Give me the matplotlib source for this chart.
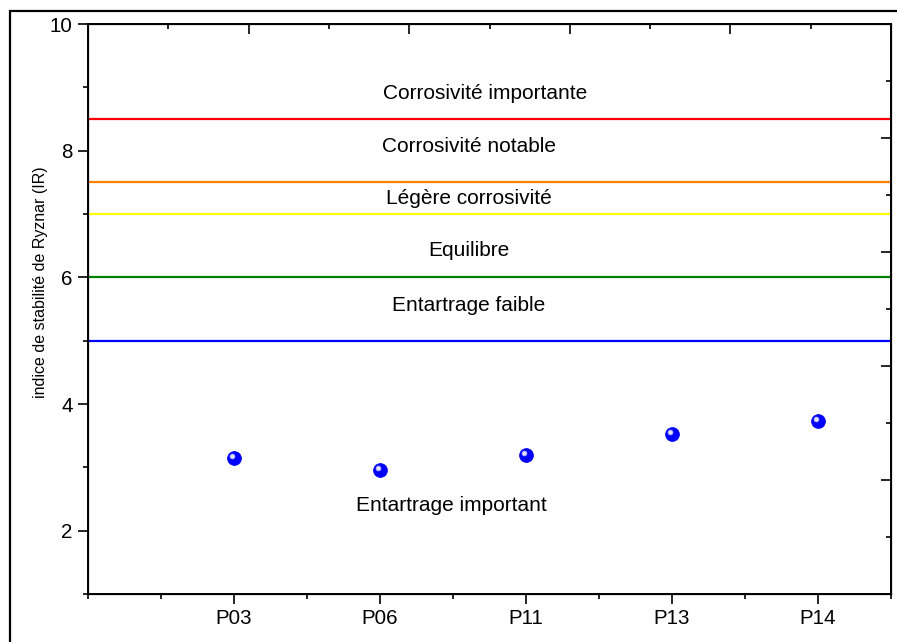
import matplotlib
matplotlib.use("Agg")
import matplotlib.pyplot as plt
import matplotlib.transforms as mtrans
from matplotlib.patches import Rectangle
from matplotlib.ticker import MultipleLocator

plt.rcParams['font.family'] = ['Liberation Sans', 'DejaVu Sans']

# points de prélèvement et indice de Ryznar
puits = ['P03', 'P06', 'P11', 'P13', 'P14']
ir = [3.15, 2.96, 3.19, 3.53, 3.73]

# limites des classes
seuils = [8.5, 7.5, 7.0, 6.0, 5.0]
couleurs = ['#ff0000', '#ff8000', '#ffff00', '#008000', '#0000ff']

zones = ['Corrosivité importante', 'Corrosivité notable', 'Légère corrosivité',
         'Equilibre', 'Entartrage faible', 'Entartrage important']
zones_y = [8.9, 8.06, 7.24, 6.43, 5.56, 2.4]
zones_x = [2.72, 2.61, 2.61, 2.61, 2.61, 2.49]

fig = plt.figure(figsize=(8.97, 6.42), dpi=100)
ax = fig.add_axes([88/897, 1-594/642, (891-88)/897, (594-24)/642])

xs = list(range(1, len(puits) + 1))

for s, c in zip(seuils, couleurs):
    ax.axhline(s, color=c, lw=1.6, zorder=1)

ax.plot(xs, ir, 'o', ms=10, color='#0000ff', mec='#0000ee', mew=0.5, zorder=3)
hl = ax.transData + mtrans.ScaledTranslation(-1.5/72, 1.5/72, fig.dpi_scale_trans)
ax.plot(xs, ir, 'o', ms=4, color='#b8b8ff', mec='none', transform=hl, zorder=4)
ax.plot(xs, ir, 'o', ms=2, color='#f0f0ff', mec='none', transform=hl, zorder=5)

for t, x, y in zip(zones, zones_x, zones_y):
    ax.text(x, y, t, ha='center', va='center', fontsize=15)

ax.set_xlim(0, 5.5)
ax.set_ylim(1, 10)
ax.set_xticks(xs)
ax.set_xticklabels(puits)
ax.xaxis.set_minor_locator(MultipleLocator(0.5))
ax.set_yticks([2, 4, 6, 8, 10])
ax.yaxis.set_minor_locator(MultipleLocator(1))
ax.tick_params(which='major', direction='out', length=7, width=1.2, labelsize=14.8)
ax.tick_params(which='minor', direction='out', length=3.5, width=1.2)
ax.tick_params(axis='x', which='major', pad=4)
ax.tick_params(axis='y', which='major', pad=4)

fig.text(40/897, 1-282/642, 'indice de stabilité de Ryznar (IR)', rotation=90,
         ha='center', va='center', fontsize=11.5)
for sp in ax.spines.values():
    sp.set_linewidth(1.4)

# axes secondaires (haut et droite) sans étiquettes
axt = ax.twiny()
axt.set_xlim(0, 5)
axt.set_xticks([1, 2, 3, 4])
axt.xaxis.set_minor_locator(MultipleLocator(0.5))
axt.tick_params(which='major', direction='in', length=7, width=1.2, labeltop=False)
axt.tick_params(which='minor', direction='in', length=3.5, width=1.2)

axr = ax.twinx()
axr.set_ylim(0, 5)
axr.set_yticks([1, 2, 3, 4])
axr.yaxis.set_minor_locator(MultipleLocator(0.5))
axr.tick_params(which='major', direction='in', length=7, width=1.2, labelright=False)
axr.tick_params(which='minor', direction='in', length=3.5, width=1.2)

# cadre extérieur
fig.patches.append(Rectangle((10/897, -0.1), 1.0, 1.1 - 11/642, transform=fig.transFigure,
                             fill=False, ec='black', lw=1.6, clip_on=False))

fig.savefig('out.png', dpi=100)
